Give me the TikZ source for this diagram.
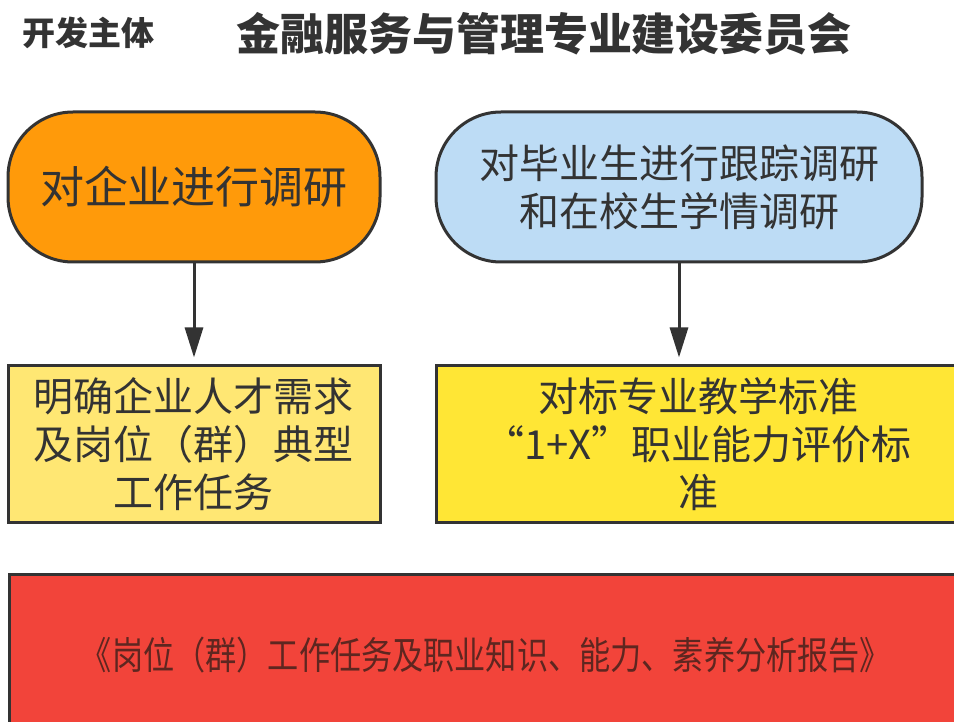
\documentclass[tikz,border=0pt]{standalone}
\usepackage{fontspec}
\setmainfont{Noto Sans CJK SC}
\usetikzlibrary{positioning,arrows.meta}

\definecolor{inkgray}{HTML}{333333}
\definecolor{surveyorange}{HTML}{FF9A0A}
\definecolor{surveyblue}{HTML}{BDDCF5}
\definecolor{paleyellow}{HTML}{FFE773}
\definecolor{brightyellow}{HTML}{FFE635}
\definecolor{reportred}{HTML}{F2443A}
\definecolor{reportink}{HTML}{5E2620}

\begin{document}
\begin{tikzpicture}
[x=1pt,y=-1pt,
 every node/.style={draw=inkgray,line width=3pt,inner sep=0pt,outer sep=0pt,text=inkgray,align=center,font=\fontsize{40}{48}\selectfont},
 survey/.style={rectangle,rounded corners=65pt,minimum width=372pt,minimum height=150pt},
 result/.style={rectangle,minimum height=157pt},
 report/.style={rectangle,fill=reportred,text=reportink,minimum width=954pt,minimum height=162pt,font=\fontsize{38}{42}\selectfont},
 smallhead/.style={draw=none,font=\bfseries\fontsize{33}{38}\selectfont},
 bighead/.style={draw=none,font=\bfseries\fontsize{44}{50}\selectfont},
 link/.style={-{Triangle[length=30pt,width=18pt]},inkgray,line width=3pt,shorten >=8pt}]

\useasboundingbox (0,0) rectangle (954,722);

% header
\node[smallhead] (Owner) at (89,33) {开发主体};
\node[bighead]   (Board) at (544,34) {金融服务与管理专业建设委员会};

% surveys
\node[survey,fill=surveyorange,font=\fontsize{44}{50}\selectfont] (Enterprise) at (194,187) {对企业进行调研};
\node[survey,fill=surveyblue,minimum width=486pt] (Graduate) [on grid,right=485pt of Enterprise]
  {对毕业生进行跟踪调研\\和在校生学情调研};

% results
\node[result,fill=paleyellow,minimum width=372pt] (Demand) [on grid,below=257pt of Enterprise]
  {明确企业人才需求\\及岗位（群）典型\\工作任务};
\node[result,fill=brightyellow,minimum width=524pt] (Standard) [on grid,right=504pt of Demand]
  {对标专业教学标准\\“1+X”职业能力评价标\\准};
\path[link] (Enterprise) edge (Demand);
\path[link] (Graduate.south) edge (Graduate.south |- Standard.north);

% report
\node[report] (Report) [on grid,below right=211pt and 292pt of Demand]
  {\scalebox{0.82}[1]{《岗位（群）工作任务及职业知识、能力、素养分析报告》}};

\end{tikzpicture}
\end{document}
